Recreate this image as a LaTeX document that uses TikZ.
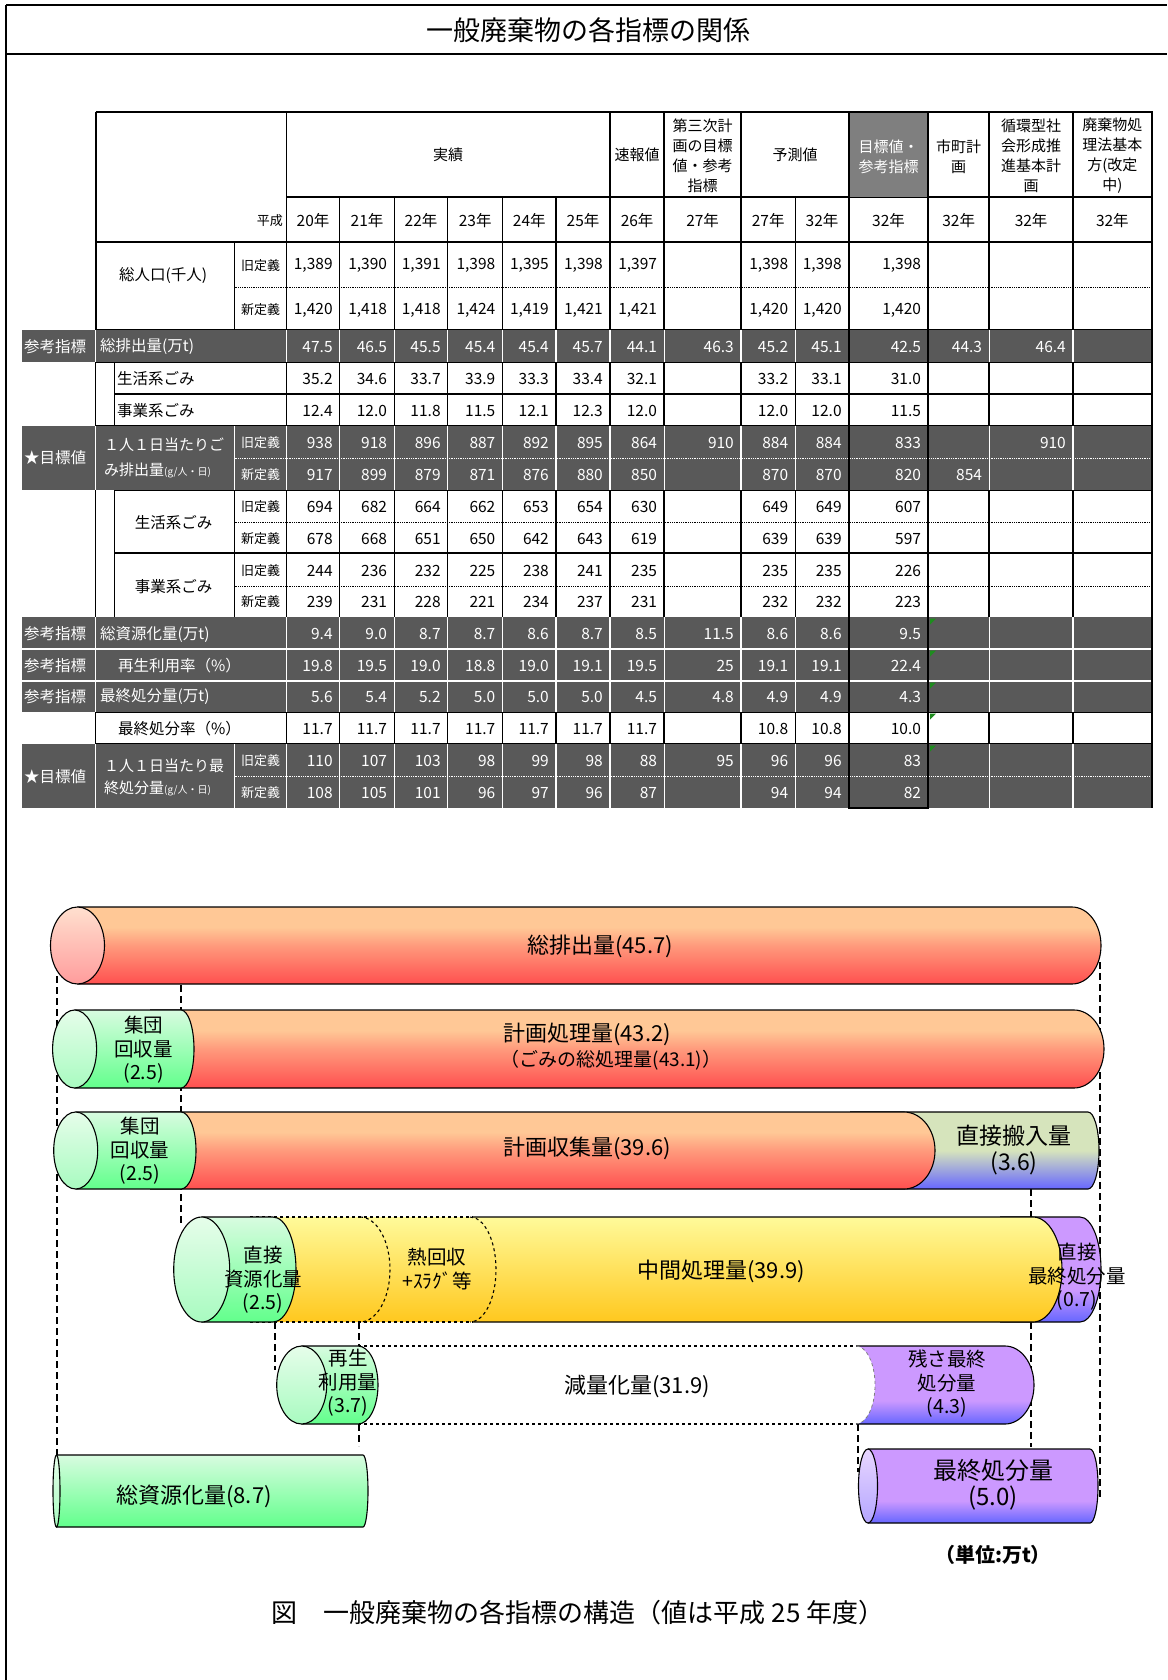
\documentclass[tikz,border=0pt]{standalone}
\usepackage{fontspec}
\setmainfont{Noto Sans CJK JP}

\definecolor{darkrow}{HTML}{595959}
\definecolor{headgray}{HTML}{7F7F7F}
\definecolor{xlgreen}{HTML}{1E8C1E}
\definecolor{redtop}{HTML}{FFC896}
\definecolor{redmid}{HTML}{FF9A7C}
\definecolor{redbot}{HTML}{FF4F4F}
\definecolor{pinktop}{HTML}{FFE0CF}
\definecolor{pinkbot}{HTML}{FF9C9C}
\definecolor{grntop}{HTML}{D8FCE0}
\definecolor{grnmid}{HTML}{A9FDBD}
\definecolor{grnbot}{HTML}{62FF8C}
\definecolor{facetop}{HTML}{E6FDEA}
\definecolor{facebot}{HTML}{A8FBC0}
\definecolor{yeltop}{HTML}{FFFA9A}
\definecolor{yelmid}{HTML}{FFEB66}
\definecolor{yelbot}{HTML}{FFC81E}
\definecolor{purp}{HTML}{CC99FF}
\definecolor{purpbot}{HTML}{6666FF}
\definecolor{dirtop}{HTML}{D6E4BC}
\definecolor{lilactop}{HTML}{E8D6FF}
\definecolor{lilacbot}{HTML}{B4A6FF}

\pgfdeclareverticalshading{redshade}{100bp}{color(0bp)=(redbot); color(25bp)=(redbot); color(50bp)=(redmid); color(62bp)=(redtop); color(100bp)=(redtop)}
\pgfdeclareverticalshading{purpshade}{100bp}{color(0bp)=(purpbot); color(25bp)=(purpbot); color(40bp)=(purp); color(100bp)=(purp)}
\pgfdeclareverticalshading{dirshade}{100bp}{color(0bp)=(purpbot); color(25bp)=(purpbot); color(50bp)=(dirtop); color(100bp)=(dirtop)}

\tikzset{
  gridline/.style={draw=black,line width=1.1pt},
  dotline/.style={draw=black,line width=0.8pt,densely dotted},
  whiteline/.style={draw=white,line width=1.2pt},
  cell/.style={inner sep=0pt,font=\fontsize{15.5}{17}\selectfont},
  num/.style={inner sep=0pt,anchor=east,font=\fontsize{15.5}{17}\selectfont},
  small/.style={inner sep=0pt,font=\fontsize{13}{15}\selectfont},
  hdr/.style={inner sep=0pt,align=center,font=\fontsize{15}{20}\selectfont},
  cyltext/.style={inner sep=0pt,align=center,font=\fontsize{22}{24}\selectfont},
  cylsmall/.style={inner sep=0pt,align=center,font=\fontsize{19.5}{23.5}\selectfont},
  outline/.style={draw=black,line width=1.1pt},
  guide/.style={draw=black,line width=1.3pt,dash pattern=on 7pt off 4pt},
  grnbody/.style={top color=grntop,middle color=grnmid,bottom color=grnbot},
  grnface/.style={top color=facetop,bottom color=facebot},
  yelbody/.style={top color=yeltop,middle color=yelmid,bottom color=yelbot},
}

% column edges of the table
\def\colL{{286.3,339.8,394.2,447.8,502.5,556,610,664.2,741,795.3,848.8,928.2,989.2,1073}}
\def\colR{{339.8,394.2,447.8,502.5,556,610,664.2,741,795.3,848.8,928.2,989.2,1073,1151.7}}

% one row of values, right aligned
\newcommand{\datarow}[4]{%
  \foreach \v [count=\i] in {#4} {
    \pgfmathsetmacro{\xr}{\colR[\i-1]}
    \node[num,text=#3] (#1-\i) at (\xr-7,#2) {\v};
  }}

% cylinder body with rounded right end
\newcommand{\tubebody}[6]{%
  \shade[#1] (#2,#4) -- (#3,#4) arc[start angle=-90,end angle=90,x radius=#6,y radius={(#5-#4)/2}] -- (#2,#5) -- cycle;
  \draw[outline] (#2,#4) -- (#3,#4) arc[start angle=-90,end angle=90,x radius=#6,y radius={(#5-#4)/2}] -- (#2,#5);}
% cylinder front face
\newcommand{\tubeface}[5]{%
  \shade[#1] (#2,#3) ellipse[x radius=#4,y radius=#5];
  \draw[outline] (#2,#3) ellipse[x radius=#4,y radius=#5];}

\begin{document}
\begin{tikzpicture}[x=1pt,y=1pt,yscale=-1]
    \useasboundingbox (0,0) rectangle (1167,1680);

    %Frame and title
    \draw[line width=2pt] (6,5) -- (1167,5);
    \draw[line width=2.4pt] (6,54) -- (1167,54);
    \draw[line width=1.4pt] (6,5) -- (6,1680);
    \node[inner sep=0pt,font=\fontsize{27}{30}\selectfont] (title) at (588,30) {一般廃棄物の各指標の関係};

    %Table grid (white rows)
    \foreach \x in {286.3,610,664.2,741,848.8,928.2,989.2,1073,1151.7}
      \draw[gridline,line width=1.5pt] (\x,112) -- (\x,808);
    \foreach \x in {339.8,394.2,447.8,502.5,556,795.3}
      \draw[gridline] (\x,197) -- (\x,808);
    \draw[gridline,line width=1.8pt] (95.7,112) -- (95.7,330);
    \draw[gridline] (95.7,362) -- (95.7,426) (95.7,490) -- (95.7,617) (95.7,712) -- (95.7,744);
    \draw[gridline] (114.8,362) -- (114.8,426) (114.8,490) -- (114.8,617);
    \draw[gridline] (234.6,242) -- (234.6,330) (234.6,490) -- (234.6,617);
    \draw[gridline] (286.3,197) -- (1151.7,197);
    \draw[gridline] (95.7,242) -- (1151.7,242);
    \draw[gridline] (95.7,330) -- (1151.7,330);
    \draw[gridline] (95.7,362) -- (1151.7,362);
    \draw[gridline] (114.8,394) -- (1151.7,394);
    \draw[gridline] (95.7,426) -- (1151.7,426);
    \draw[gridline] (114.8,490) -- (1151.7,490);
    \draw[gridline] (114.8,553) -- (1151.7,553);
    \draw[gridline] (95.7,712) -- (1151.7,712);
    \draw[gridline] (95.7,744) -- (1151.7,744);
    \foreach \y in {287,522,586}
      \draw[dotline] (234.6,\y) -- (1151.7,\y);

    %Dark rows
    \fill[darkrow] (21.8,330) rectangle (1151.7,362);
    \fill[darkrow] (21.8,426) rectangle (1151.7,490);
    \fill[darkrow] (21.8,617) rectangle (1151.7,712);
    \fill[darkrow] (21.8,744) rectangle (1151.7,808);
    \fill[headgray] (848.8,112) rectangle (928.2,197);
    \foreach \a/\b in {330/362,426/490,617/712,744/808} {
      \foreach \x in {95.7,286.3,339.8,394.2,447.8,502.5,556,610,664.2,741,795.3,989.2,1073}
        \draw[whiteline] (\x,\a) -- (\x,\b);
    }
    \draw[whiteline] (234.6,426) -- (234.6,490) (234.6,744) -- (234.6,808);
    \draw[whiteline] (21.8,649) -- (1151.7,649) (21.8,681) -- (1151.7,681);
    \draw[whiteline,line width=0.8pt,densely dotted] (234.6,458) -- (1151.7,458) (234.6,776) -- (1151.7,776);
    \foreach \y in {617,649,681,712,744}
      \fill[xlgreen] (930,\y+1.5) -- (936,\y+1.5) -- (930,\y+7.5) -- cycle;

    %Thick borders
    \draw[line width=2.4pt] (848.8,112) rectangle (928.2,808);
    \draw[line width=2pt] (95.7,112) -- (1151.7,112) -- (1151.7,808);

    % Header text
    \node[hdr] (h-jisseki) at (448,155) {実績};
    \node[hdr] (h-sokuho) at (637,155) {速報値};
    \node[hdr] (h-daisan) at (702.6,156) {第三次計\\画の目標\\値・参考\\指標};
    \node[hdr] (h-yosoku) at (795,155) {予測値};
    \node[hdr,text=white] (h-target) at (888.5,157) {目標値・\\参考指標};
    \node[hdr] (h-shicho) at (958.7,157) {市町計\\画};
    \node[hdr] (h-junkan) at (1031,156) {循環型社\\会形成推\\進基本計\\画};
    \node[hdr] (h-haiki) at (1112.4,156) {廃棄物処\\理法基本\\方(改定\\中)};
    \node[small,anchor=east] (h-heisei) at (283,221) {平成};
    \foreach \yr [count=\i] in {20,21,22,23,24,25,26,27,27,32,32,32,32,32} {
      \pgfmathsetmacro{\xa}{\colL[\i-1]}
      \pgfmathsetmacro{\xb}{\colR[\i-1]}
      \node[cell] (yr-\i) at ({(\xa+\xb)/2},221) {\yr 年};
    }

    % Row labels
    \node[cell] (l-pop) at (163,276) {総人口(千人)};
    \node[small] (l-popold) at (260.5,265.5) {旧定義};
    \node[small] (l-popnew) at (260.5,310) {新定義};
    \node[cell,text=white] (k-total) at (55,347) {参考指標};
    \node[cell,text=white,anchor=west] (l-total) at (100,347) {総排出量(万t)};
    \node[cell,anchor=west] (l-house) at (117,379) {生活系ごみ};
    \node[cell,anchor=west] (l-biz) at (117,411) {事業系ごみ};
    \node[cell,text=white] (k-per) at (55,458) {★目標値};
    \node[cell,text=white,anchor=west,align=left,font=\fontsize{15}{25}\selectfont] (l-per) at (104,458) {１人１日当たりご\\み排出量{\fontsize{10}{12}\selectfont (g/人・日)}};
    \node[small,text=white] (l-perold) at (260.5,443) {旧定義};
    \node[small,text=white] (l-pernew) at (260.5,475) {新定義};
    \node[cell] (l-hh) at (173.5,523) {生活系ごみ};
    \node[small] (l-hhold) at (260.5,507) {旧定義};
    \node[small] (l-hhnew) at (260.5,539) {新定義};
    \node[cell] (l-bz) at (173.5,587) {事業系ごみ};
    \node[small] (l-bzold) at (260.5,571) {旧定義};
    \node[small] (l-bznew) at (260.5,602) {新定義};
    \node[cell,text=white] (k-resrc) at (55,634) {参考指標};
    \node[cell,text=white,anchor=west] (l-resrc) at (100,634) {総資源化量(万t)};
    \node[cell,text=white] (k-recyc) at (55,666) {参考指標};
    \node[cell,text=white,anchor=west] (l-recyc) at (118,666) {再生利用率（\%）};
    \node[cell,text=white] (k-landf) at (55,697) {参考指標};
    \node[cell,text=white,anchor=west] (l-landf) at (100,697) {最終処分量(万t)};
    \node[cell,anchor=west] (l-lfrate) at (118,729) {最終処分率（\%）};
    \node[cell,text=white] (k-lf) at (55,777) {★目標値};
    \node[cell,text=white,anchor=west,align=left,font=\fontsize{15}{22}\selectfont] (l-lf) at (104,777) {１人１日当たり最\\終処分量{\fontsize{10}{12}\selectfont (g/人・日)}};
    \node[small,text=white] (l-lfold) at (260.5,761) {旧定義};
    \node[small,text=white] (l-lfnew) at (260.5,793) {新定義};

    % Values
    \datarow{r-popold}{265.5}{black}{{1,389},{1,390},{1,391},{1,398},{1,395},{1,398},{1,397},{},{1,398},{1,398},{1,398}}
    \datarow{r-popnew}{310}{black}{{1,420},{1,418},{1,418},{1,424},{1,419},{1,421},{1,421},{},{1,420},{1,420},{1,420}}
    \datarow{r-total}{347}{white}{47.5,46.5,45.5,45.4,45.4,45.7,44.1,46.3,45.2,45.1,42.5,44.3,46.4}
    \datarow{r-house}{379}{black}{35.2,34.6,33.7,33.9,33.3,33.4,32.1,{},33.2,33.1,31.0}
    \datarow{r-biz}{411}{black}{12.4,12.0,11.8,11.5,12.1,12.3,12.0,{},12.0,12.0,11.5}
    \datarow{r-perold}{443}{white}{938,918,896,887,892,895,864,910,884,884,833,{},910}
    \datarow{r-pernew}{475}{white}{917,899,879,871,876,880,850,{},870,870,820,854}
    \datarow{r-hhold}{507}{black}{694,682,664,662,653,654,630,{},649,649,607}
    \datarow{r-hhnew}{539}{black}{678,668,651,650,642,643,619,{},639,639,597}
    \datarow{r-bzold}{571}{black}{244,236,232,225,238,241,235,{},235,235,226}
    \datarow{r-bznew}{602}{black}{239,231,228,221,234,237,231,{},232,232,223}
    \datarow{r-resrc}{634}{white}{9.4,9.0,8.7,8.7,8.6,8.7,8.5,11.5,8.6,8.6,9.5}
    \datarow{r-recyc}{666}{white}{19.8,19.5,19.0,18.8,19.0,19.1,19.5,25,19.1,19.1,22.4}
    \datarow{r-landf}{697}{white}{5.6,5.4,5.2,5.0,5.0,5.0,4.5,4.8,4.9,4.9,4.3}
    \datarow{r-lfrate}{729}{black}{11.7,11.7,11.7,11.7,11.7,11.7,11.7,{},10.8,10.8,10.0}
    \datarow{r-lfold}{761}{white}{110,107,103,98,99,98,88,95,96,96,83}
    \datarow{r-lfnew}{793}{white}{108,105,101,96,97,96,87,{},94,94,82}

    %Dashed guide lines
    \draw[guide] (57,976) -- (57,1455);
    \draw[guide] (181,985) -- (181,1224);
    \draw[guide] (1100,962) -- (1100,1497);
    \draw[guide] (1031,1189) -- (1031,1217) (1031,1322) -- (1031,1447);
    \draw[guide] (275,1322) -- (275,1370);
    \draw[guide] (359,1322) -- (359,1346) (359,1424) -- (359,1446);
    \draw[guide] (858,1424) -- (858,1472);

    %Shape: Cylinder total
    \tubebody{shading=redshade}{77.5}{1072}{907}{984}{29}
    \tubeface{top color=pinktop,bottom color=pinkbot}{77.5}{945.5}{27}{38.5}
    \node[cyltext] (c-total) at (600,946) {総排出量(45.7)};

    %Shape: Cylinder planned treatment
    \tubebody{shading=redshade}{150}{1074}{1010}{1088}{30}
    \tubebody{grnbody}{74.6}{181}{1010}{1088}{13}
    \tubeface{grnface}{74.6}{1049}{22}{39}
    \node[cyltext] (c-plan) at (587,1034) {計画処理量(43.2)};
    \node[inner sep=0pt,font=\fontsize{19}{21}\selectfont] (c-plansub) at (611,1060) {（ごみの総処理量(43.1)）};
    \node[cylsmall] (c-group1) at (143.6,1050) {集団\\回収量\\(2.5)};

    %Shape: Cylinder planned collection
    \tubebody{shading=dirshade}{850}{1088}{1112}{1189}{11}
    \tubebody{shading=redshade}{150}{904}{1112}{1189}{31}
    \tubebody{grnbody}{75.7}{181}{1112}{1189}{15}
    \tubeface{grnface}{75.7}{1150.5}{22}{38.5}
    \node[cyltext] (c-collect) at (587,1148) {計画収集量(39.6)};
    \node[cylsmall] (c-group2) at (140,1151) {集団\\回収量\\(2.5)};
    \node[inner sep=0pt,align=center,font=\fontsize{23}{26}\selectfont] (c-direct) at (1014,1150) {直接搬入量\\(3.6)};

    %Shape: Cylinder intermediate treatment
    \tubebody{shading=purpshade}{1000}{1080}{1217}{1322}{21}
    \shade[yelbody] (250,1217) -- (1033,1217) arc[start angle=-90,end angle=90,x radius=29,y radius=52.5] -- (250,1322) -- cycle;
    \draw[outline] (473,1217) -- (1033,1217) arc[start angle=-90,end angle=90,x radius=29,y radius=52.5] -- (473,1322);
    \draw[outline,dashed] (250,1217) -- (473,1217) (250,1322) -- (473,1322);
    \draw[outline,dashed] (360,1217) arc[start angle=-90,end angle=90,x radius=30,y radius=52.5];
    \draw[outline,dashed] (470,1217) arc[start angle=-90,end angle=90,x radius=26,y radius=52.5];
    \tubebody{grnbody}{201.7}{273}{1217}{1322}{23}
    \tubeface{grnface}{201.7}{1269.5}{28}{52.5}
    \node[cylsmall] (c-dres) at (263,1280) {直接\\資源化量\\(2.5)};
    \node[cylsmall,font=\fontsize{19.5}{24}\selectfont] (c-heat) at (437,1269) {熱回収\\+ｽﾗｸﾞ等};
    \node[cyltext] (c-mid) at (721,1271) {中間処理量(39.9)};
    \node[cylsmall] (c-dfinal) at (1077,1277) {直接\\最終処分量\\(0.7)};

    %Shape: Cylinder reduction
    \shade[shading=purpshade] (856,1346) -- (1005,1346) arc[start angle=-90,end angle=90,x radius=29,y radius=39] -- (856,1424) arc[start angle=90,end angle=-90,x radius=19,y radius=39] -- cycle;
    \draw[outline] (856,1346) -- (1005,1346) arc[start angle=-90,end angle=90,x radius=29,y radius=39] -- (856,1424);
    \draw[gray,dashed,line width=0.8pt] (856,1424) arc[start angle=90,end angle=-90,x radius=19,y radius=39];
    \draw[outline,dashed] (358,1346) -- (856,1346) (358,1424) -- (856,1424);
    \tubebody{grnbody}{301.7}{358}{1346}{1424}{20}
    \tubeface{grnface}{301.7}{1385}{25}{39}
    \node[cylsmall] (c-recyc) at (348,1383) {再生\\利用量\\(3.7)};
    \node[cyltext] (c-reduce) at (637,1386) {減量化量(31.9)};
    \node[cylsmall] (c-resid) at (947,1384) {残さ最終\\処分量\\(4.3)};

    %Shape: Cylinder total resources
    \tubebody{grnbody}{56.5}{363}{1455}{1527}{5}
    \tubeface{grnface}{56.5}{1491}{3.5}{36}
    \node[cyltext] (c-resource) at (194,1496) {総資源化量(8.7)};

    %Shape: Cylinder final disposal
    \tubebody{shading=purpshade}{868}{1090}{1449}{1523}{8}
    \tubeface{top color=lilactop,bottom color=lilacbot}{868}{1486}{9.5}{37}
    \node[inner sep=0pt,align=center,font=\fontsize{24}{26}\selectfont] (c-final) at (993,1485) {最終処分量\\(5.0)};

    % Text Node
    \node[inner sep=0pt,font=\fontsize{20}{22}\selectfont\bfseries] (unit) at (993,1555) {（単位:万t）};
    % Text Node
    \node[inner sep=0pt,font=\fontsize{26}{28}\selectfont] (caption) at (578,1613) {図　一般廃棄物の各指標の構造（値は平成 25 年度）};
\end{tikzpicture}
\end{document}
